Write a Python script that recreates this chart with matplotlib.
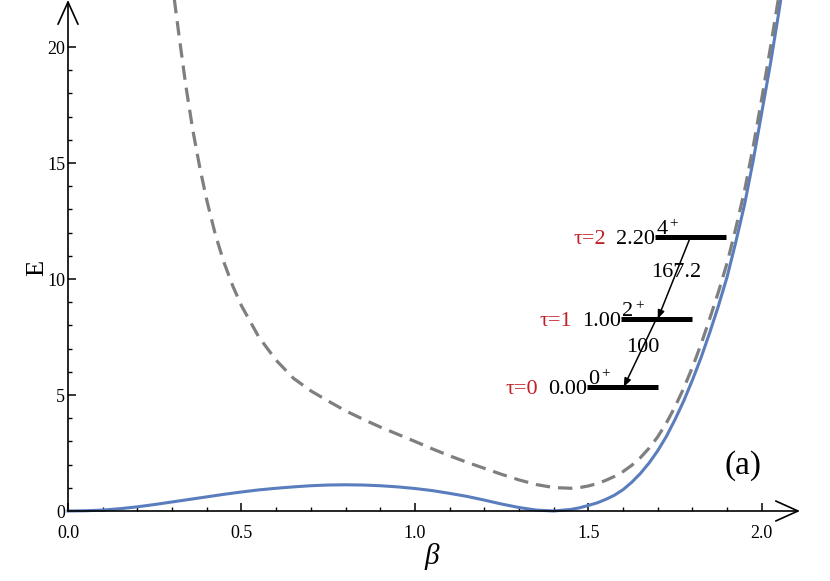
import matplotlib.pyplot as plt
from matplotlib.ticker import MultipleLocator, FixedLocator

# potential V(beta), solid blue curve
beta_v = [0.00, 0.05, 0.10, 0.15, 0.20, 0.25, 0.30, 0.35, 0.40, 0.45,
          0.50, 0.55, 0.60, 0.65, 0.70, 0.75, 0.80, 0.85, 0.90, 0.95,
          1.00, 1.05, 1.10, 1.15, 1.20, 1.25, 1.30, 1.35, 1.40, 1.45,
          1.475, 1.500, 1.525, 1.550, 1.575, 1.600, 1.625, 1.650, 1.675,
          1.700, 1.725, 1.750, 1.775, 1.800, 1.825, 1.850, 1.875, 1.900,
          1.925, 1.950, 1.975, 2.000, 2.025, 2.050, 2.070]
v_solid = [0.00, 0.01, 0.04, 0.10, 0.18, 0.28, 0.39, 0.50, 0.61, 0.72,
           0.82, 0.91, 0.98, 1.04, 1.09, 1.12, 1.13, 1.12, 1.09, 1.04,
           0.97, 0.88, 0.76, 0.63, 0.47, 0.30, 0.15, 0.04, 0.00, 0.07,
           0.14, 0.24, 0.35, 0.50, 0.68, 0.92, 1.24, 1.62, 2.07,
           2.60, 3.22, 3.95, 4.75, 5.65, 6.62, 7.70, 8.85, 10.1,
           11.6, 13.2, 15.1, 17.2, 19.3, 21.6, 23.6]

# effective potential, grey dashed curve
beta_d = [0.30, 0.32, 0.34, 0.36, 0.38, 0.40, 0.425, 0.45, 0.475, 0.50,
          0.55, 0.60, 0.65, 0.70, 0.75, 0.80, 0.85, 0.90, 0.95, 1.00,
          1.05, 1.10, 1.15, 1.20, 1.25, 1.30, 1.35, 1.40, 1.45, 1.475,
          1.500, 1.525, 1.550, 1.575, 1.600, 1.625, 1.650, 1.675, 1.700,
          1.725, 1.750, 1.775, 1.800, 1.825, 1.850, 1.875, 1.900, 1.925,
          1.950, 1.975, 2.000, 2.025, 2.050]
v_dashed = [22.8, 20.5, 18.3, 16.4, 14.8, 13.4, 11.9, 10.7, 9.7, 8.85,
            7.5, 6.5, 5.72, 5.18, 4.74, 4.32, 3.96, 3.62, 3.31, 3.00,
            2.68, 2.38, 2.10, 1.84, 1.58, 1.34, 1.14, 1.01, 0.98, 1.01,
            1.08, 1.18, 1.32, 1.49, 1.70, 1.97, 2.30, 2.71, 3.20,
            3.80, 4.50, 5.30, 6.20, 7.20, 8.30, 9.45, 10.7, 12.2,
            13.8, 15.7, 17.8, 20.0, 22.3]

# level scheme
level_spin = ["0", "2", "4"]
level_energy = [0.00, 1.00, 2.20]
level_tau = [0, 1, 2]
gamma_labels = ["100", "167.2"]

plt.rcParams["font.family"] = ["Liberation Serif", "DejaVu Serif"]

red = "#c0202a"

fig = plt.figure(figsize=(8.3, 5.81), dpi=100)
ax = fig.add_axes([68 / 830, 70 / 581, 732 / 830, 511 / 581])
ax.set_xlim(0, 2.11)
ax.set_ylim(0, 22.03)

ax.plot(beta_v, v_solid, color="#5a7dbd", lw=2.2, clip_on=False, zorder=3)
ax.plot(beta_d, v_dashed, color="#7f7f7f", lw=2.3, dashes=(4.5, 2.5), zorder=3)

# axes drawn as arrows, Mathematica style
for s in ax.spines.values():
    s.set_visible(False)
arrow = dict(arrowstyle="->,head_length=0.8,head_width=0.36", lw=1.2,
             color="black", mutation_scale=20, shrinkA=0, shrinkB=0)
ax.annotate("", xy=(1, 0), xytext=(0, 0), xycoords="axes fraction", arrowprops=arrow)
ax.annotate("", xy=(0, 1.0), xytext=(0, 0), xycoords="axes fraction", arrowprops=arrow)

ax.xaxis.set_major_locator(MultipleLocator(0.5))
ax.xaxis.set_minor_locator(FixedLocator([i / 10 for i in range(21)]))
ax.yaxis.set_major_locator(MultipleLocator(5))
ax.yaxis.set_minor_locator(FixedLocator(list(range(21))))
ax.xaxis.set_major_formatter(plt.FuncFormatter(lambda v, p: f"{v:.1f}"))
ax.yaxis.set_major_formatter(plt.FuncFormatter(lambda v, p: f"{v:.0f}"))
ax.tick_params(axis="x", which="major", direction="in", length=6, width=1.1,
               labelsize=13, pad=10)
ax.tick_params(axis="y", which="major", direction="in", length=6, width=1.1,
               labelsize=13, pad=2)
ax.tick_params(which="minor", direction="in", length=3, width=1.0)

fig.text(37 / 830, 1 - 268 / 581, "E", rotation=90, fontsize=19,
         ha="center", va="center")
fig.text(432 / 830, 1 - 557 / 581, "β", fontsize=21, style="italic",
         ha="center", va="center")

# level scheme
lvl_E = [5.35 + 2.935 * e for e in level_energy]
lvl_x0 = [1.495 + 0.098 * i for i in range(len(level_energy))]
for x0, E, spin, en, tau in zip(lvl_x0, lvl_E, level_spin, level_energy, level_tau):
    ax.plot([x0, x0 + 0.207], [E, E], color="black", lw=3.6,
            solid_capstyle="butt", zorder=4)
    ax.annotate(spin, xy=(x0, E), xytext=(1.2, 2.2), textcoords="offset points",
                ha="left", va="baseline", fontsize=16)
    ax.annotate("+", xy=(x0, E), xytext=(10.5, 9.5), textcoords="offset points",
                ha="left", va="center", fontsize=11)
    ax.annotate(f"{en:.2f}", xy=(x0, E), xytext=(0, -2),
                textcoords="offset points", ha="right", va="center", fontsize=16)
    ax.annotate(f"τ={tau}", xy=(x0, E), xytext=(-35, -2),
                textcoords="offset points", ha="right", va="center",
                fontsize=16, color=red)

for i, lab in enumerate(gamma_labels):
    xa, ea = lvl_x0[i + 1] + 0.103, lvl_E[i + 1]
    xb, eb = lvl_x0[i] + 0.107, lvl_E[i]
    ax.annotate("", xy=(xb, eb), xytext=(xa, ea),
                arrowprops=dict(arrowstyle="-|>,head_length=0.5,head_width=0.2",
                                lw=1.1, color="black", mutation_scale=10,
                                shrinkA=0, shrinkB=0), zorder=5)
    ax.text((xa + xb) / 2 + 0.007, (ea + eb) / 2 + 0.25, lab,
            ha="center", va="center", fontsize=16)

ax.text(1.945, 1.94, "(a)", fontsize=24, ha="center", va="center")

fig.savefig("out.png", dpi=100)
